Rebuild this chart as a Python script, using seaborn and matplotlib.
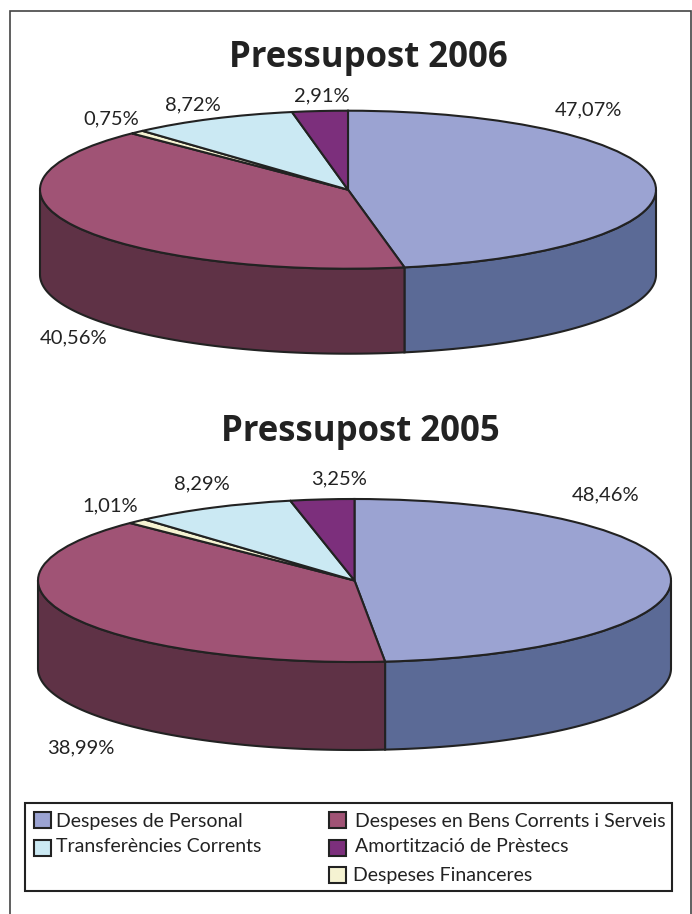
import numpy as np
import seaborn as sns
import matplotlib.pyplot as plt
from matplotlib.patches import Rectangle

categories = ['Despeses de Personal', 'Despeses en Bens Corrents i Serveis', 'Despeses Financeres',
              'Transferències Corrents', 'Amortització de Prèstecs']
values_2006 = [47.07, 40.56, 0.75, 8.72, 2.91]
values_2005 = [48.46, 38.99, 1.01, 8.29, 3.25]
labels_2006 = ['47,07%', '40,56%', '0,75%', '8,72%', '2,91%']
labels_2005 = ['48,46%', '38,99%', '1,01%', '8,29%', '3,25%']

top_colors = ['#9BA3D2', '#A05375', '#F5F3D2', '#CBE9F3', '#7C2F7C']
side_colors = ['#5B6A96', '#5F3246', '#F5F3D2', '#CBE9F3', '#7C2F7C']
LINE = '#222222'

W, H = 692, 914
sns.set_theme(style='white')
plt.rcParams['font.family'] = ['Lato', 'DejaVu Sans']

fig = plt.figure(figsize=(W / 100, H / 100), dpi=100)


def pixel_text(x, y, s, **kw):
    fig.text(x / W, 1 - y / H, s, va='center', color='#222222', **kw)


def draw_pie(values, cx, cy, rx, ry, depth):
    # axes placed so the pie's unit circle lands on the wanted ellipse
    ax = fig.add_axes([(cx - 1.25 * rx) / W, 1 - (cy + 1.25 * ry + depth) / H,
                       2.5 * rx / W, (2.5 * ry + depth) / H])
    ax.patch.set_alpha(0)
    t = depth / ry
    wedges, _ = ax.pie(values, colors=top_colors, startangle=90, counterclock=False,
                       wedgeprops=dict(edgecolor=LINE, linewidth=1.5, zorder=3))
    ax.set_aspect('auto')
    ax.set_xlim(-1.25, 1.25)
    ax.set_ylim(-1.25 - t, 1.25)

    # side wall, only the front half of the rim (90-270 deg clockwise from the top)
    edges = np.cumsum([0] + values) / sum(values) * 360
    for i in range(len(values)):
        a0, a1 = max(edges[i], 90), min(edges[i + 1], 270)
        if a0 >= a1:
            continue
        th = np.radians(np.linspace(a0, a1, 100))
        x, y = np.sin(th), np.cos(th)
        ax.fill(np.r_[x, x[::-1]], np.r_[y, y[::-1] - t], facecolor=side_colors[i],
                edgecolor=LINE, linewidth=1.5, zorder=2)
    return ax


draw_pie(values_2006, 348, 189.7, 308, 79, 85)
draw_pie(values_2005, 354.5, 580.5, 316.5, 81.5, 88)

pixel_text(368, 58, 'Pressupost 2006', ha='center', fontsize=25, fontweight='bold', family='Open Sans')
pixel_text(360, 432, 'Pressupost 2005', ha='center', fontsize=25, fontweight='bold', family='Open Sans')

label_pos_2006 = [(588, 110), (74, 338), (111, 119), (193, 105), (322, 96)]
label_pos_2005 = [(605.5, 495), (81, 748), (110.5, 506), (201.5, 484), (339.5, 479)]
for s, (x, y) in zip(labels_2006, label_pos_2006):
    pixel_text(x, y, s, ha='center', fontsize=14.5)
for s, (x, y) in zip(labels_2005, label_pos_2005):
    pixel_text(x, y, s, ha='center', fontsize=14.5)

# outer frame (runs off the bottom of the picture) and legend box
fig.add_artist(Rectangle((9.5 / W, -0.01), 681.5 / W, 1 - 11 / H + 0.01, transform=fig.transFigure,
                         fill=False, edgecolor='#444444', linewidth=1.2))
fig.add_artist(Rectangle((25 / W, 1 - 891 / H), 647 / W, 88 / H, transform=fig.transFigure,
                         fill=False, edgecolor=LINE, linewidth=1.5))

legend_items = [(0, 34, 820, 56, 821), (1, 329, 820, 355, 821), (3, 34, 848, 56, 846),
                (4, 329, 848, 355, 846), (2, 329, 875, 353, 876)]
for i, bx, by, tx, ty in legend_items:
    fig.add_artist(Rectangle((bx / W, 1 - (by + 8) / H), 17 / W, 16.5 / H, transform=fig.transFigure,
                             facecolor=top_colors[i], edgecolor=LINE, linewidth=1.5))
    pixel_text(tx, ty, categories[i], ha='left', fontsize=14)

fig.savefig('out.png', dpi=100)
